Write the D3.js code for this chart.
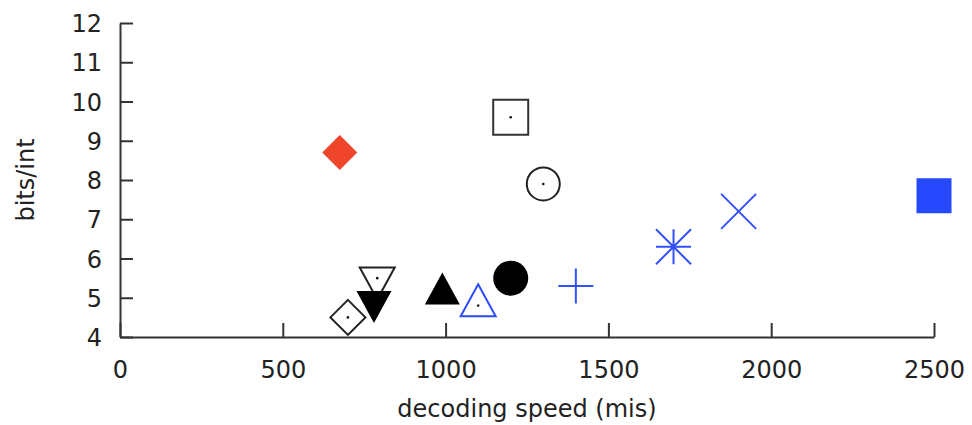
<!DOCTYPE html>
<html>
<head>
<meta charset="utf-8">
<script src="https://cdn.jsdelivr.net/npm/d3@7"></script>
<style>
  body { margin: 0; background: #fff; }
  svg text { font-family: "DejaVu Sans", sans-serif; fill: #222; }
</style>
</head>
<body>
<svg id="chart" width="972" height="425"></svg>
<script>

// one entry per method
let speeds = [675, 1200, 1300, 700, 790, 780, 990, 1100, 1200, 1400, 1700, 1900, 2500];
let bitsPerInt = [8.7, 9.6, 7.9, 4.5, 5.5, 4.9, 5.1, 4.8, 5.5, 5.3, 6.3, 7.2, 7.6];

let xTicks = [0, 500, 1000, 1500, 2000, 2500];
let yTicks = [4, 5, 6, 7, 8, 9, 10, 11, 12];

// marker style per point (same order as above)
let markerShapes = ["diamondFill", "squareOpen", "circleOpen", "diamondOpen", "downOpen", "downFill",
                    "upFill", "upOpen", "circleFill", "plus", "star", "cross", "squareFill"];
let markerColors = ["#ee452b", "#333", "#222", "#222", "#222", "#000",
                    "#000", "#2b4bff", "#000", "#3350ff", "#3350ff", "#3350ff", "#2648ff"];

var margin = {top: 23, left: 120},
    width = 814,
    height = 314;

var svg = d3.select("#chart")
  .append("g")
    .attr("transform", "translate(" + margin.left + "," + margin.top + ")");

var x = d3.scaleLinear().domain([0, 2500]).range([0, width]);
var y = d3.scaleLinear().domain([4, 12]).range([height, 0]);

//ticks point inward like gnuplot
var xAxis = d3.axisBottom(x).tickValues(xTicks).tickFormat(d3.format("d"))
  .tickSizeInner(-14).tickSizeOuter(0).tickPadding(24);
var yAxis = d3.axisLeft(y).tickValues(yTicks).tickFormat(d3.format("d"))
  .tickSizeInner(-13).tickSizeOuter(0).tickPadding(18);

var gx = svg.append("g")
  .attr("transform", "translate(0," + height + ")")
  .call(xAxis);
var gy = svg.append("g").call(yAxis);

[gx, gy].forEach(function(g) {
  g.select(".domain").attr("stroke", "#333").attr("stroke-width", 2);
  g.selectAll(".tick line").attr("stroke", "#333").attr("stroke-width", 2);
  g.selectAll(".tick text").attr("font-size", 24).attr("fill", "#222")
    .style("font-family", "DejaVu Sans");
});
gy.selectAll(".tick text").attr("dy", "0.36em");

svg.append("text")
  .attr("x", width / 2)
  .attr("y", height + 80)
  .attr("text-anchor", "middle")
  .attr("font-size", 24)
  .text("decoding speed (mis)");

svg.append("text")
  .attr("transform", "rotate(-90)")
  .attr("x", -height / 2)
  .attr("y", -86)
  .attr("text-anchor", "middle")
  .attr("font-size", 24)
  .text("bits/int");

// marker path builders, r = half size in px
var r = 17.5;
function markerPath(shape) {
  var v = 16;
  switch (shape) {
    case "diamondFill":
    case "diamondOpen":
      return "M0," + (-r) + "L" + r + ",0L0," + r + "L" + (-r) + ",0Z";
    case "squareOpen":
    case "squareFill":
      return "M" + (-r) + "," + (-r) + "H" + r + "V" + r + "H" + (-r) + "Z";
    case "upFill":
    case "upOpen":
      return "M0," + (-1.33 * v) + "L" + r + "," + (0.67 * v) + "L" + (-r) + "," + (0.67 * v) + "Z";
    case "downFill":
    case "downOpen":
      return "M0," + (1.33 * v) + "L" + r + "," + (-0.67 * v) + "L" + (-r) + "," + (-0.67 * v) + "Z";
    case "plus":
      return "M" + (-r) + ",0H" + r + "M0," + (-r) + "V" + r;
    case "cross":
      return "M" + (-r) + "," + (-r) + "L" + r + "," + r + "M" + (-r) + "," + r + "L" + r + "," + (-r);
    case "star":
      return "M" + (-r) + ",0H" + r + "M0," + (-r) + "V" + r +
             "M" + (-r) + "," + (-r) + "L" + r + "," + r + "M" + (-r) + "," + r + "L" + r + "," + (-r);
  }
  return null;
}

var points = speeds.map(function(s, i) {
  return {speed: s, bits: bitsPerInt[i], shape: markerShapes[i], color: markerColors[i]};
});

// draw order so the filled down triangle sits over the open ones
var drawOrder = [0, 1, 2, 3, 4, 5, 6, 7, 8, 9, 10, 11, 12];

var marks = svg.selectAll(".mark")
  .data(drawOrder.map(function(i) { return points[i]; }))
  .enter().append("g")
    .attr("class", "mark")
    .attr("transform", function(d) { return "translate(" + x(d.speed) + "," + y(d.bits) + ")"; });

marks.each(function(d) {
  var g = d3.select(this);
  var filled = d.shape.indexOf("Fill") > -1;
  var open = d.shape.indexOf("Open") > -1;
  if (d.shape === "circleFill" || d.shape === "circleOpen") {
    g.append("circle")
      .attr("r", filled ? 17.5 : 16.5)
      .attr("fill", filled ? d.color : "#fff")
      .attr("stroke", d.color)
      .attr("stroke-width", filled ? 0 : 2);
  } else {
    g.append("path")
      .attr("d", markerPath(d.shape))
      .attr("fill", filled ? d.color : (open ? "#fff" : "none"))
      .attr("stroke", d.color)
      .attr("stroke-width", filled ? 0 : 2)
      .attr("stroke-linejoin", "miter");
  }
  if (open) {
    g.append("circle").attr("r", 1.3).attr("fill", d.color === "#2b4bff" ? "#223" : "#111");
  }
});

</script>
</body>
</html>
